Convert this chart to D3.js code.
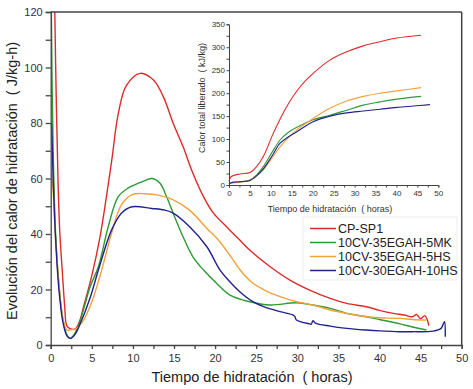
<!DOCTYPE html>
<html>
<head>
<meta charset="utf-8">
<script src="https://cdn.jsdelivr.net/npm/d3@7"></script>
<style>
body { margin: 0; background: #fff; }
text { font-family: "Liberation Sans", Arial, sans-serif; white-space: pre; }
</style>
</head>
<body>
<div class="chart"></div>
<script>
// series names and colours
const seriesNames = ["CP-SP1", "10CV-35EGAH-5MK", "10CV-35EGAH-5HS", "10CV-30EGAH-10HS"]
const seriesColours = ["#e02a2a", "#2e9a36", "#f2a23a", "#22228c"]

// heat flow (J/kg-h) vs time (h)
const redFlow = [[0.45,140],[0.5,120],[0.7,85],[0.9,58],[1.1,41],[1.4,27],[1.7,14],[1.95,7],[2.3,6],[3,5.8],[3.5,8.5],[4,13.8],[5,25],[6,39],[7.4,66],[8.2,83],[9.2,93.5],[10.9,97.9],[12.5,95.5],[13.7,89.5],[14.9,79.9],[16.1,71.5],[17.3,61.9],[18.6,53.4],[19.8,47.5],[21.4,42.6],[23,37.8],[24.2,34.2],[26.7,28.2],[29.1,23.4],[31.5,19.8],[34,16.8],[36,15],[38.4,13.8],[40,12.5],[41.7,11.4],[43,10.8],[44,10.2],[44.5,11],[45,9.5],[45.5,10.6],[45.8,9.2],[46,7]]
const greenFlow = [[0.05,150],[0.08,120],[0.3,70],[0.6,40],[1,22],[1.5,9],[2,3.5],[2.35,2.4],[2.8,3.5],[3.5,8],[4.8,21],[5.8,28.2],[7,42.6],[8.2,53.4],[9.4,56.5],[11.1,58.8],[12.3,60],[13.3,58.3],[14.1,53.4],[14.9,47.5],[16.1,39],[17.3,31.8],[18.6,27],[20.2,22.2],[21.8,18],[24.2,15.6],[26.7,14.4],[29.9,15.2],[31.9,14.4],[34,13.2],[36,11.4],[38.4,10.2],[40,9.2],[42.5,7.6],[44,6.5],[45.7,5.4]]
const orangeFlow = [[0.1,62],[0.3,55],[0.6,38],[1,22],[1.4,11],[1.95,5.4],[2.5,5.5],[3,5.7],[3.5,7],[4,9],[5,15.5],[6.2,27],[7.4,40.2],[8.6,50.5],[9.9,54.2],[11.5,54.5],[13.1,54],[14.9,52.3],[16.9,48.6],[19,42],[20.5,37.5],[22,31.5],[23.2,26.5],[24.5,22.5],[26,19.8],[27.9,17.4],[29.9,15.6],[31.9,14.4],[34,12.6],[36,11.4],[38.4,10.2],[40,9.8],[42.5,9.6],[44,9.2],[45.7,9]]
const blueFlow = [[0.05,80],[0.1,79],[0.3,60],[0.6,38],[1,20],[1.5,8],[2,3.2],[2.45,2.4],[3,4],[3.5,7],[4.8,17],[5.8,27],[7.4,41.4],[8.6,47.5],[9.9,49.8],[12.3,49.2],[13.9,48.6],[14.9,47.5],[16.9,42.6],[19,35.4],[20.6,27],[21.8,22.8],[23,19.2],[24.6,15.6],[25.9,13.8],[27.9,12],[29.5,10.8],[29.7,10.3],[29.9,9],[31.5,7.6],[31.7,7.5],[31.9,8.8],[32.2,7.9],[34,6.8],[36,6],[38.4,5.4],[40,5.1],[42.5,4.8],[44,4.8],[46.5,5],[47.5,6],[47.9,8.4],[48,3]]
const flowData = [redFlow, greenFlow, orangeFlow, blueFlow]

// cumulative heat (kJ/kg) vs time (h), inset
const redTotal = [[0,8],[0.5,18],[2.6,24],[5,27],[6.6,40],[8.2,62],[10.6,113],[13.8,171],[17,214],[20.1,243],[24.1,272],[28.1,290],[32.1,303],[36.1,312],[40.1,320],[45.9,326]]
const greenTotal = [[0,2],[0.5,5],[2.6,7],[5,11],[6.6,22],[8.2,40],[10.2,70],[12.2,98],[14.2,115],[16.2,126],[20.1,142],[24.1,152],[28.1,163],[32.1,174],[36.1,181],[40.1,187],[45.9,193]]
const orangeTotal = [[0,2],[0.5,4],[2.6,6],[5,10],[6.6,20],[8.2,33],[10.2,58],[12.2,83],[14.2,103],[16.2,120],[20.1,145],[24.1,167],[28.1,183],[32.1,193],[36.1,200],[40.1,205],[45.9,212]]
const blueTotal = [[0,2],[0.5,5],[2.6,7],[5,10],[6.6,20],[8.2,35],[10.2,62],[12.2,91],[14.2,105],[16.2,116],[20.1,138],[24.1,150],[28.1,157],[32.1,161],[36.1,165],[40.1,169],[44,172],[48,175]]
const totalData = [redTotal, greenTotal, orangeTotal, blueTotal]

// tick labels
const xTicks = [0, 5, 10, 15, 20, 25, 30, 35, 40, 45, 50]
const yTicks = [0, 20, 40, 60, 80, 100, 120]
const insetYTicks = [0, 50, 100, 150, 200, 250, 300, 350]

const svg = d3.select(".chart").append("svg").attr("width", 473).attr("height", 389)

// main plot
const x = d3.scaleLinear().domain([0, 50]).range([50.7, 461.7])
const y = d3.scaleLinear().domain([0, 120]).range([345, 12])

svg.append("clipPath").attr("id", "clip").append("rect")
   .attr("x", 50.7).attr("y", 12).attr("width", 411).attr("height", 333)

const line = d3.line().x(d => x(d[0])).y(d => y(d[1])).curve(d3.curveCatmullRom.alpha(0.5))
svg.append("g").attr("clip-path", "url(#clip)").selectAll("path").data(flowData).enter().append("path")
   .attr("d", line).attr("fill", "none").attr("stroke", (d, i) => seriesColours[i]).attr("stroke-width", 1.4)

// frame
svg.append("line").attr("x1", x(0)).attr("x2", x(50)).attr("y1", y(120)).attr("y2", y(120))
   .attr("stroke", "#444").attr("stroke-width", 1.5)
svg.append("line").attr("x1", x(50)).attr("x2", x(50)).attr("y1", y(120)).attr("y2", y(0))
   .attr("stroke", "#444").attr("stroke-width", 1.5)

const xAxis = svg.append("g").attr("transform", `translate(0,${y(0)})`)
   .call(d3.axisBottom(x).tickValues(d3.range(0, 50.1, 2.5)).tickSize(4).tickFormat(d => xTicks.includes(d) ? d : ""))
const yAxis = svg.append("g").attr("transform", `translate(${x(0)},0)`)
   .call(d3.axisLeft(y).tickValues(d3.range(0, 120.1, 10)).tickSize(5).tickFormat(d => yTicks.includes(d) ? d : ""))
xAxis.selectAll("text").attr("font-size", 11).attr("fill", "#333").attr("dy", "0.9em")
yAxis.selectAll("text").attr("font-size", 11).attr("fill", "#333")
svg.selectAll(".domain, .tick line").attr("stroke", "#444").attr("stroke-width", 1.3)

svg.append("text").attr("transform", "translate(17,181) rotate(-90)").attr("text-anchor", "middle")
   .attr("font-size", 14.5).attr("fill", "#222").text("Evolución del calor de hidratación  ( J/kg-h)")
svg.append("text").attr("x", 252).attr("y", 382).attr("text-anchor", "middle")
   .attr("font-size", 14.5).attr("fill", "#222").text("Tiempo de hidratación  ( horas)")

// inset
const ix = d3.scaleLinear().domain([0, 50]).range([229, 438.3])
const iy = d3.scaleLinear().domain([0, 350]).range([185, 24.3])
const iline = d3.line().x(d => ix(d[0])).y(d => iy(d[1])).curve(d3.curveCatmullRom.alpha(0.5))
const inset = svg.append("g")
inset.selectAll("path").data(totalData).enter().append("path")
   .attr("d", iline).attr("fill", "none").attr("stroke", (d, i) => seriesColours[i]).attr("stroke-width", 1.1)

const ixAxis = inset.append("g").attr("transform", `translate(0,${iy(0)})`)
   .call(d3.axisBottom(ix).tickValues(d3.range(0, 50.1, 2.5)).tickSize(2.5).tickFormat(d => xTicks.includes(d) ? d : ""))
const iyAxis = inset.append("g").attr("transform", `translate(${ix(0)},0)`)
   .call(d3.axisLeft(iy).tickValues(d3.range(0, 350.1, 25)).tickSize(2.5).tickFormat(d => insetYTicks.includes(d) ? d : ""))
inset.selectAll("text").attr("font-size", 8).attr("fill", "#333")
inset.selectAll(".tick text").attr("dy", null)
ixAxis.selectAll(".tick text").attr("y", 11)
iyAxis.selectAll(".tick text").attr("dy", "0.32em").attr("x", -4)
inset.selectAll(".domain, .tick line").attr("stroke", "#444").attr("stroke-width", 1)

inset.append("text").attr("transform", "translate(205,98) rotate(-90)").attr("text-anchor", "middle")
   .attr("font-size", 9).attr("fill", "#333").text("Calor total liberado  ( kJ/kg)")
inset.append("text").attr("x", 330).attr("y", 212).attr("text-anchor", "middle")
   .attr("font-size", 9).attr("fill", "#333").text("Tiempo de hidratación  ( horas)")

// legend
svg.append("rect").attr("x", 303).attr("y", 217).attr("width", 154).attr("height", 63)
   .attr("fill", "none").attr("stroke", "#eee")
const legend = svg.selectAll(".legend").data(seriesNames).enter().append("g")
   .attr("class", "legend").attr("transform", (d, i) => `translate(310,${228.5 + i * 14})`)
legend.append("line").attr("x1", 0).attr("x2", 26).attr("stroke", (d, i) => seriesColours[i]).attr("stroke-width", 1.5)
legend.append("text").attr("x", 28).attr("dy", "0.35em").attr("font-size", 12.5).attr("fill", "#222").text(d => d)
</script>
</body>
</html>
